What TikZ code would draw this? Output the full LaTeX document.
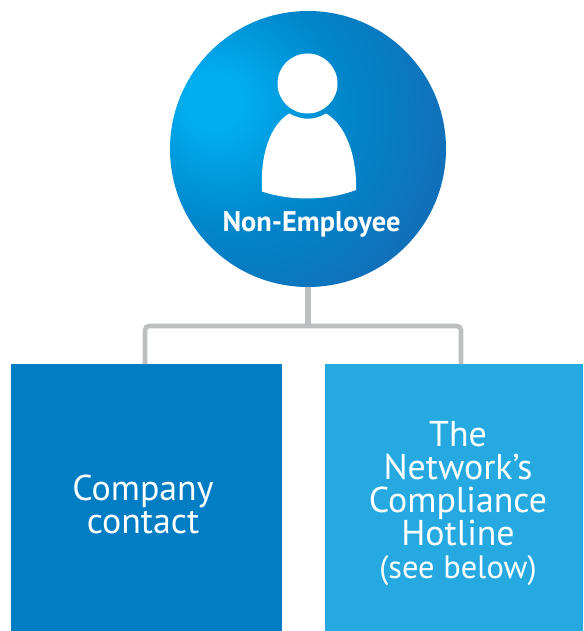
\documentclass[tikz,border=0pt]{standalone}
\usepackage{fontspec}
\setmainfont{PT Sans}
\usetikzlibrary{positioning}

\definecolor{hubdark}{HTML}{1071BA}
\definecolor{hubedge}{HTML}{1F7DC1}
\definecolor{hubmid}{HTML}{0086CB}
\definecolor{hublight}{HTML}{00AEEF}
\definecolor{boxdark}{HTML}{007DC3}
\definecolor{boxlight}{HTML}{25A9E0}
\definecolor{linkgray}{HTML}{BCBEC0}

% centre of the light spot sits up and left of the middle
\pgfdeclareradialshading{hubshade}{\pgfpoint{-18bp}{9bp}}{
  color(0bp)=(hublight); color(5bp)=(hublight); color(21bp)=(hubmid);
  color(36bp)=(hubdark); color(50bp)=(hubdark); color(58bp)=(hubedge); color(100bp)=(hubedge)}

\tikzset{
  hub/.style={circle,minimum size=207pt,inner sep=0pt,shading=hubshade},
  box/.style={rectangle,inner sep=0pt,anchor=north west},
  boxtext/.style={align=center,text=white,font=\fontsize{26.9}{24.75}\selectfont},
  link/.style={draw=linkgray,line width=3.4pt,rounded corners=3pt},
}

\begin{document}
\begin{tikzpicture}[x=0.75pt,y=-0.75pt]
  \useasboundingbox (0,0) rectangle (583,631);

  % circle
  \node[hub] (hub) at (308,149) {};

  % boxes
  \node[box,fill=boxdark,minimum width=203.25pt,minimum height=200.25pt] (contact) at (11,364) {};
  \node[box,fill=boxlight,minimum width=193.5pt,minimum height=200.25pt] (hotline) at (325,364) {};

  % connectors
  \coordinate (split) at (308,326);
  \coordinate (leftdrop) at (145,326);
  \coordinate (rightdrop) at (461,326);
  \draw[link,line width=4.8pt] (hub.south) -- (split);
  \draw[link] (contact.north -| leftdrop) -- (leftdrop) -- (rightdrop) -- (hotline.north -| rightdrop);

  % person
  \fill[white] (307.5,83.5) circle (30);
  \fill[white] (289.3,113.5)
    .. controls (302,120.5) and (314,120.5) .. (326,113.5)
    .. controls (345,124) and (357,155) .. (356,190)
    .. controls (327,201) and (290,201) .. (262,191.5)
    .. controls (260,155) and (270,125) .. (289.3,113.5) -- cycle;

  % labels
  \node[text=white,font=\fontsize{21.3}{22}\selectfont\bfseries] (hublabel) at (311.5,224.5) {Non-Employee};
  \node[boxtext] (contactlabel) at (143,504.5) {Company\\contact};
  \node[boxtext] (hotlinelabel) at (458,504) {The\\Network’s\\Compliance\\Hotline\\{\fontsize{24.3}{24.75}\selectfont (see below)}};
\end{tikzpicture}
\end{document}
